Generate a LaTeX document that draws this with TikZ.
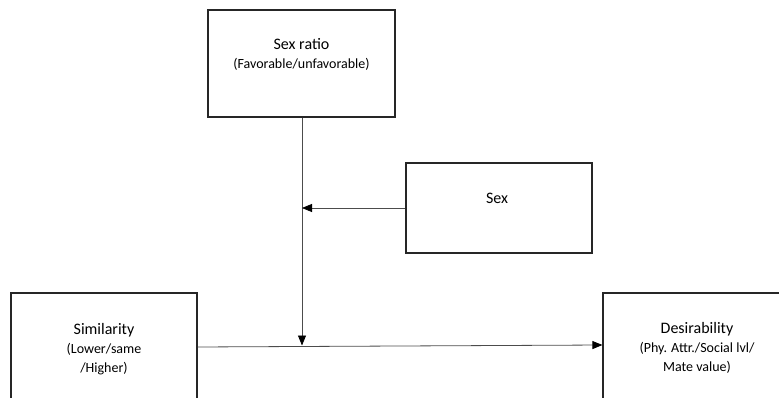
\documentclass[tikz,border=0pt]{standalone}
\usepackage{fontspec}
\setmainfont{Carlito}
\usetikzlibrary{arrows.meta}
\begin{document}
\begin{tikzpicture}[x=1pt,y=-1pt,
  box/.style={draw=black!85,line width=1.2pt,rectangle,inner sep=0pt},
  lbl/.style={align=center,font=\fontsize{16}{19}\selectfont,inner sep=0pt},
  conn/.style={draw=black!70,line width=0.8pt},
  arr/.style={conn,-{Triangle[length=10pt,width=8pt,fill=black,color=black]}}]
\useasboundingbox (0,0) rectangle (779,398);
\node[box,minimum width=187pt,minimum height=107pt] (ratio) at (301.5,63.5) {};
\node[box,minimum width=186pt,minimum height=90pt] (sex) at (499,208) {};
\node[box,minimum width=186pt,minimum height=130pt] (sim) at (104,358) {};
\node[box,minimum width=188pt,minimum height=130pt] (des) at (697,358) {};
\node[lbl] (ratiot) at (301.5,54) {Sex ratio\\{\fontsize{14}{18}\selectfont(Favorable/unfavorable)}};
\node[lbl] (sext) at (497,198) {Sex};
\node[lbl] (simt) at (104,349) {Similarity\\{\fontsize{14}{18}\selectfont(Lower/same}\\{\fontsize{14}{18}\selectfont/Higher)}};
\node[lbl] (dest) at (697,348) {Desirability\\{\fontsize{14}{18}\selectfont(Phy. Attr./Social lvl/}\\{\fontsize{14}{18}\selectfont Mate value)}};
\coordinate (m) at (302,345.5);
\coordinate (v) at (302,208);
\draw[arr] (ratio.south -| m) -- (m);
\draw[arr] (sex.west) -- (v);
\draw[arr] (sim.east |- 0,347) -- (des.west |- 0,345);
\end{tikzpicture}
\end{document}
